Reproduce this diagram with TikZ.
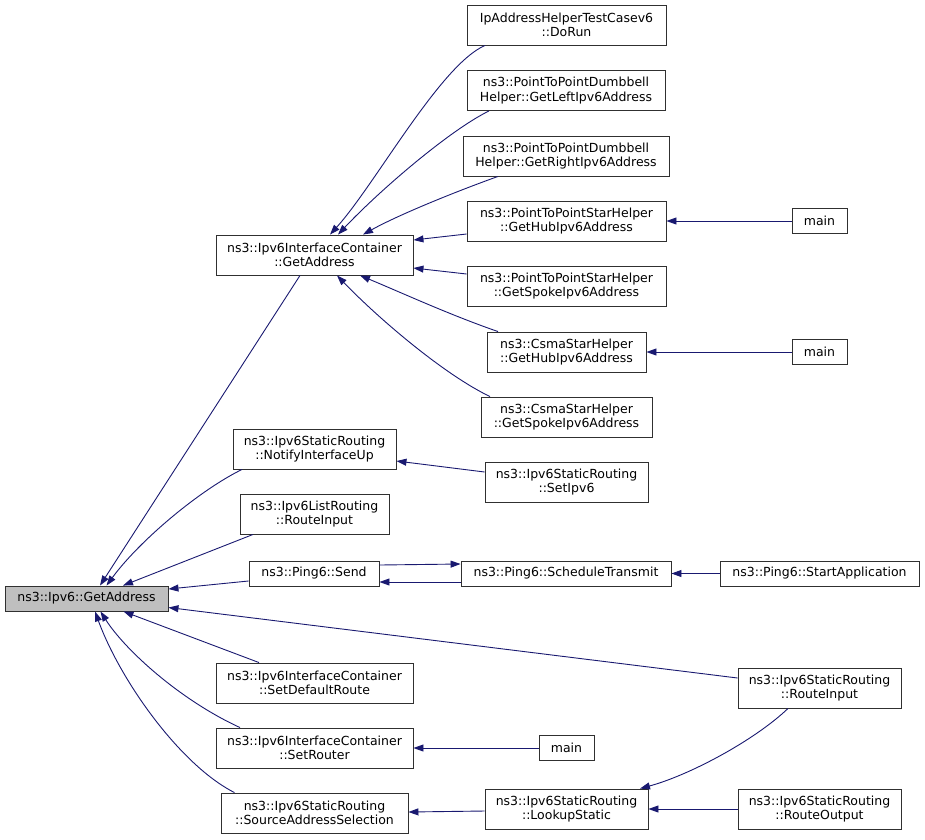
\documentclass[tikz,border=0pt]{standalone}
\usepackage{fontspec}
\setmainfont{DejaVu Sans}
\usetikzlibrary{arrows.meta}
\definecolor{edgecol}{HTML}{191970}
\definecolor{boxline}{HTML}{303030}
\definecolor{mainfill}{HTML}{BFBFBF}
\begin{document}
\begin{tikzpicture}[x=1pt,y=-1pt,
  box/.style={draw=boxline,line width=0.9pt,fill=white,inner sep=0pt,align=center,
    font=\fontsize{12.5}{14.5}\selectfont},
  edge/.style={draw=edgecol,line width=0.9pt,-{Triangle[length=10pt,width=7pt]}}]
\useasboundingbox (0,0) rectangle (925,839);
% nodes
\node[box,fill=mainfill,minimum width=163,minimum height=25] (main) at (86.5,598.5) {ns3::Ipv6::GetAddress};
\node[box,minimum width=197,minimum height=40] (ic) at (314.5,255) {ns3::Ipv6InterfaceContainer\\::GetAddress};
\node[box,minimum width=199,minimum height=40] (dorun) at (566.5,25) {IpAddressHelperTestCasev6\\::DoRun};
\node[box,minimum width=198,minimum height=40] (left) at (566,90.5) {ns3::PointToPointDumbbell\\Helper::GetLeftIpv6Address};
\node[box,minimum width=206,minimum height=40] (right) at (566,156) {ns3::PointToPointDumbbell\\Helper::GetRightIpv6Address};
\node[box,minimum width=199,minimum height=40] (ptphub) at (566.5,221) {ns3::PointToPointStarHelper\\::GetHubIpv6Address};
\node[box,minimum width=199,minimum height=40] (ptpspoke) at (566.5,286) {ns3::PointToPointStarHelper\\::GetSpokeIpv6Address};
\node[box,minimum width=55,minimum height=25] (mainA) at (819.5,221) {main};
\node[box,minimum width=159,minimum height=40] (csmahub) at (566.5,352) {ns3::CsmaStarHelper\\::GetHubIpv6Address};
\node[box,minimum width=55,minimum height=25] (mainB) at (819.5,352) {main};
\node[box,minimum width=171,minimum height=40] (csmaspoke) at (566.5,417) {ns3::CsmaStarHelper\\::GetSpokeIpv6Address};
\node[box,minimum width=163,minimum height=40] (notify) at (314.5,449) {ns3::Ipv6StaticRouting\\::NotifyInterfaceUp};
\node[box,minimum width=163,minimum height=40] (setipv6) at (566.5,482) {ns3::Ipv6StaticRouting\\::SetIpv6};
\node[box,minimum width=149,minimum height=40] (listri) at (314.5,514) {ns3::Ipv6ListRouting\\::RouteInput};
\node[box,minimum width=130,minimum height=25] (send) at (314,573.5) {ns3::Ping6::Send};
\node[box,minimum width=210,minimum height=25] (sched) at (566,573.5) {ns3::Ping6::ScheduleTransmit};
\node[box,minimum width=199,minimum height=25] (startapp) at (819.5,573.5) {ns3::Ping6::StartApplication};
\node[box,minimum width=163,minimum height=40] (sri) at (819.5,688) {ns3::Ipv6StaticRouting\\::RouteInput};
\node[box,minimum width=197,minimum height=40] (setdef) at (314.5,683) {ns3::Ipv6InterfaceContainer\\::SetDefaultRoute};
\node[box,minimum width=197,minimum height=40] (setrouter) at (314.5,748) {ns3::Ipv6InterfaceContainer\\::SetRouter};
\node[box,minimum width=55,minimum height=25] (mainC) at (566.5,748) {main};
\node[box,minimum width=187,minimum height=40] (sas) at (314.5,813) {ns3::Ipv6StaticRouting\\::SourceAddressSelection};
\node[box,minimum width=163,minimum height=40] (lookup) at (566.5,809) {ns3::Ipv6StaticRouting\\::LookupStatic};
\node[box,minimum width=163,minimum height=40] (routeout) at (819.5,809) {ns3::Ipv6StaticRouting\\::RouteOutput};
% edges into ic
\draw[edge] ([xshift=-81.5]dorun.south) .. controls (440,65) and (375,185) .. ([xshift=15.5]ic.north);
\draw[edge] ([xshift=-77]left.south) .. controls (450,130) and (380,190) .. ([xshift=23.5]ic.north);
\draw[edge] ([xshift=-68]right.south) .. controls (460,190) and (400,214) .. ([xshift=48.5]ic.north);
\draw[edge] ([yshift=-13]ptphub.west) -- ([yshift=15]ic.east);
\draw[edge] ([yshift=12]ptpspoke.west) -- ([yshift=-13]ic.east);
\draw[edge] ([xshift=-68.5]csmahub.north) .. controls (450,315) and (400,292) .. ([xshift=45.5]ic.south);
\draw[edge] ([xshift=-76.5]csmaspoke.north) .. controls (445,375) and (380,320) .. ([xshift=22.5]ic.south);
% other edges
\draw[edge] (mainA.west) -- (ptphub.east);
\draw[edge] (mainB.west) -- (csmahub.east);
\draw[edge] ([yshift=10]setipv6.west) -- ([yshift=-12]notify.east);
\draw[edge] ([yshift=8.5]send.east) -- ([yshift=9.5]sched.west);
\draw[edge] ([yshift=-8.5]sched.west) -- ([yshift=-8.5]send.east);
\draw[edge] (startapp.west) -- (sched.east);
\draw[edge] (mainC.west) -- (setrouter.east);
\draw[edge] ([yshift=-2]lookup.west) -- ([yshift=1]sas.east);
\draw[edge] ([xshift=-31.5]sri.south) .. controls (755,740) and (690,775) .. ([xshift=73.5]lookup.north);
\draw[edge] (routeout.west) -- (lookup.east);
% edges into main
\draw[edge] ([xshift=-14.5]ic.south) -- ([xshift=13.5]main.north);
\draw[edge] ([xshift=-72.5]notify.south) .. controls (200,490) and (140,540) .. ([xshift=20]main.north);
\draw[edge] ([xshift=-61.5]listri.south) -- ([xshift=36.5]main.north);
\draw[edge] ([yshift=-7.5]send.west) -- ([yshift=9.5]main.east);
\draw[edge] ([yshift=10]sri.west) -- ([yshift=-9]main.east);
\draw[edge] ([xshift=-55.5]setdef.north) -- ([xshift=37]main.south);
\draw[edge] ([xshift=-74.5]setrouter.north) .. controls (180,700) and (125,650) .. ([xshift=14]main.south);
\draw[edge] ([xshift=-80]sas.north) .. controls (180,765) and (120,680) .. ([xshift=8.5]main.south);
\end{tikzpicture}
\end{document}
